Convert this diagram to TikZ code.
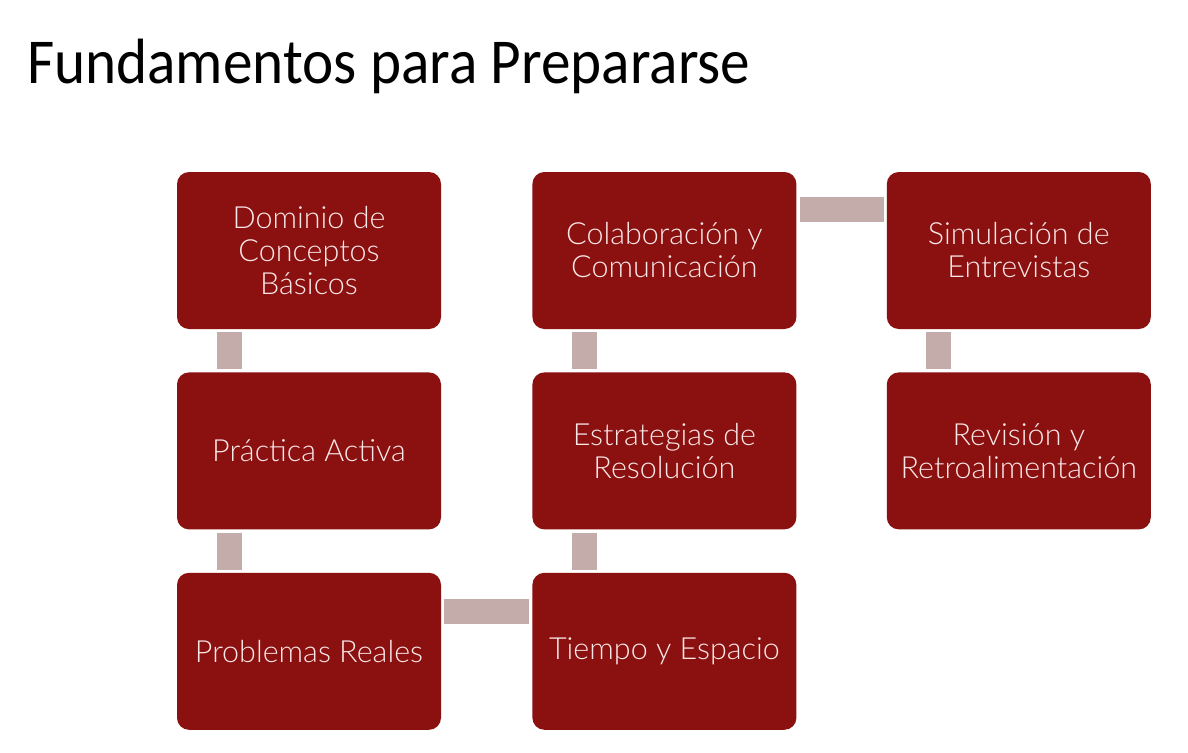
\documentclass[tikz,border=0pt]{standalone}
\usepackage{fontspec}
\setmainfont{Lato Light}
\newfontfamily\titlefont{Carlito}
\usetikzlibrary{positioning}

\begin{document}
\begin{tikzpicture}[x=1pt,y=1pt,yscale=-1,xscale=1,
  paso/.style={fill={rgb,255:red,139;green,16;blue,16},rounded corners=12pt,minimum width=264pt,minimum height=157pt,align=center,text={rgb,255:red,250;green,232;blue,232},font=\fontsize{30.5}{33}\selectfont,inner sep=0pt},
  enlace/.style={draw={rgb,255:red,196;green,172;blue,170},line width=25pt,shorten <=3pt,shorten >=3pt}]
\useasboundingbox (0,0) rectangle (1188,752);

% Title
\node [anchor=base west,inner sep=0pt,font=\titlefont\fontsize{64}{64}\selectfont] (titulo) at (27,84) {\scalebox{0.925}[1]{Fundamentos para Prepararse}};

%Shape: Rounded Rectangles, column 1
\node [paso] (dominio) at (309,250.5) {Dominio de\\Conceptos\\Básicos};
\node [paso,below=43pt of dominio] (practica) {Práctica Activa};
\node [paso,below=43pt of practica] (problemas) {Problemas Reales};
%Shape: Rounded Rectangles, column 2
\node [paso,right=91pt of problemas] (tiempo) {Tiempo y Espacio};
\node [paso,above=43pt of tiempo] (estrategias) {Estrategias de\\Resolución};
\node [paso,above=43pt of estrategias] (colaboracion) {Colaboración y\\Comunicación};
%Shape: Rounded Rectangles, column 3
\node [paso,right=90pt of colaboracion] (simulacion) {Simulación de\\Entrevistas};
\node [paso,below=43pt of simulacion] (revision) {Revisión y\\Retroalimentación};

%Connectors
\draw [enlace] ([xshift=-80pt]dominio.south) -- ([xshift=-80pt]practica.north);
\draw [enlace] ([xshift=-80pt]practica.south) -- ([xshift=-80pt]problemas.north);
\draw [enlace] ([yshift=-40pt]problemas.east) -- ([yshift=-40pt]tiempo.west);
\draw [enlace] ([xshift=-80pt]tiempo.north) -- ([xshift=-80pt]estrategias.south);
\draw [enlace] ([xshift=-80pt]estrategias.north) -- ([xshift=-80pt]colaboracion.south);
\draw [enlace] ([yshift=-41pt]colaboracion.east) -- ([yshift=-41pt]simulacion.west);
\draw [enlace] ([xshift=-80pt]simulacion.south) -- ([xshift=-80pt]revision.north);

\end{tikzpicture}
\end{document}
